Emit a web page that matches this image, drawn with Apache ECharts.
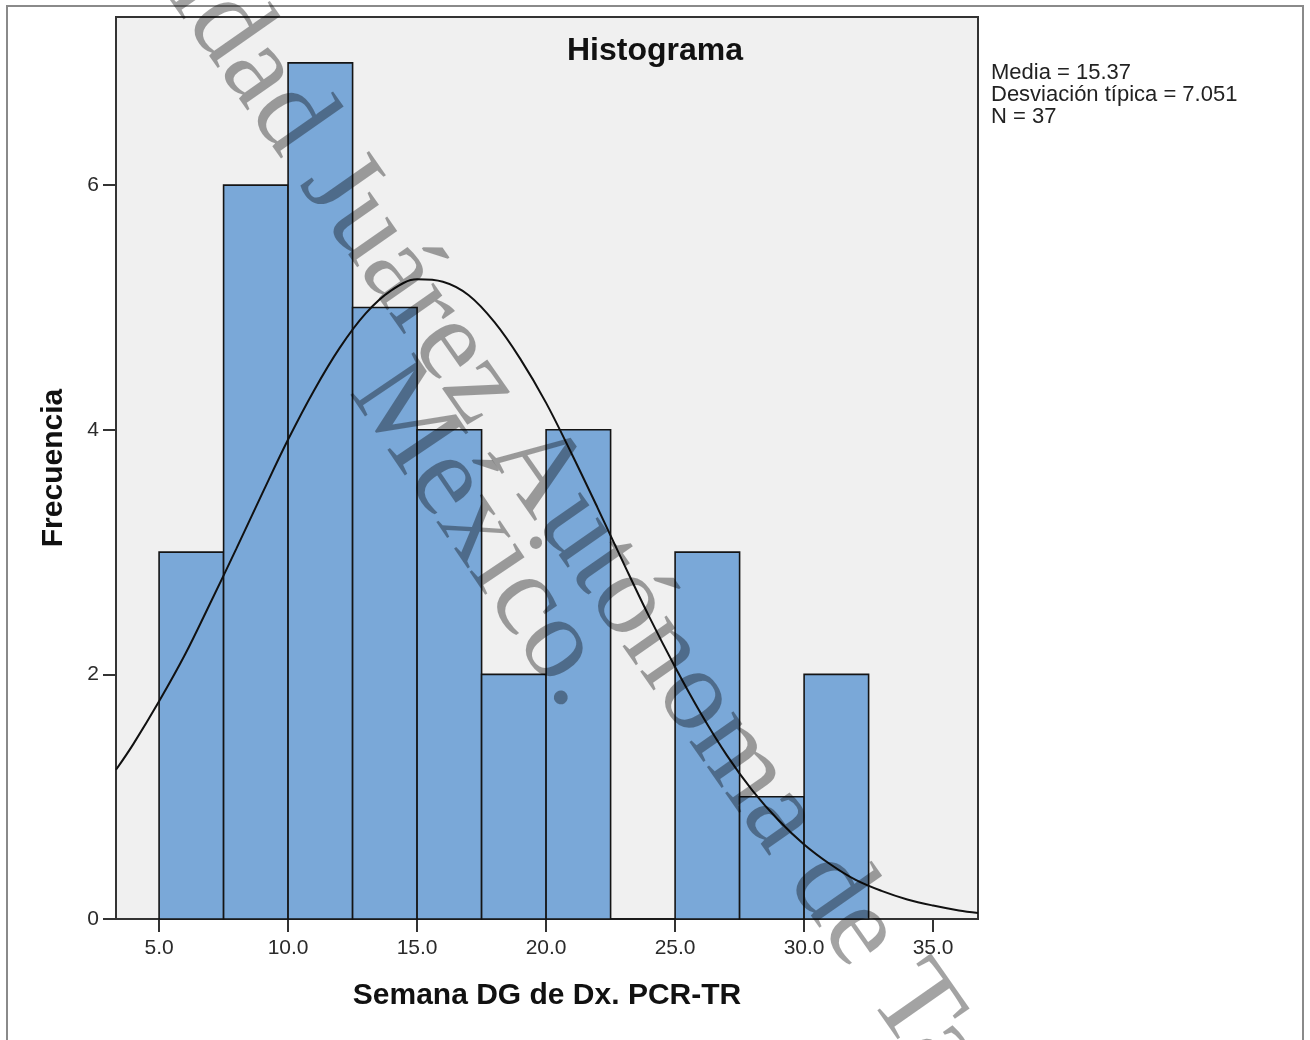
<!DOCTYPE html>
<html>
<head>
<meta charset="utf-8">
<script src="https://cdn.jsdelivr.net/npm/echarts@6/dist/echarts.min.js"></script>
<style>
    html, body { margin: 0; padding: 0; background: #fff; }
    #chart { width: 1310px; height: 1040px; }
</style>
</head>
<body>
<div id="chart"></div>
<script>
    // histogram bins (width 2.5) and counts
    var binStart = [5, 7.5, 10, 12.5, 15, 17.5, 20, 22.5, 25, 27.5, 30];
    var binWidth = 2.5;
    var counts = [3, 6, 7, 5, 4, 2, 4, 0, 3, 1, 2];

    // normal curve
    var curveX = [3.33, 4, 5, 6, 7, 8, 9, 10, 11, 12, 13, 14, 15, 16, 17, 18, 19, 20, 21, 22, 23, 24, 25, 26, 27, 28, 29, 30, 31, 32, 33, 34, 35, 36, 36.74];
    var curveY = [1.22, 1.43, 1.78, 2.16, 2.59, 3.03, 3.48, 3.92, 4.32, 4.67, 4.95, 5.14, 5.23, 5.21, 5.10, 4.88, 4.58, 4.22, 3.80, 3.36, 2.91, 2.47, 2.06, 1.68, 1.34, 1.05, 0.81, 0.61, 0.45, 0.32, 0.23, 0.16, 0.11, 0.07, 0.05];

    var xTicks = [5, 10, 15, 20, 25, 30, 35];
    var yTicks = [0, 2, 4, 6];
    var statsLines = ['Media = 15.37', 'Desviación típica = 7.051', 'N = 37'];

    var barData = binStart.map(function (s, i) {
        return [s, s + binWidth, counts[i]];
    });
    var lineData = curveX.map(function (x, i) {
        return [x, curveY[i]];
    });

    var myChart = echarts.init(document.getElementById('chart'));
    var option = {
        backgroundColor: '#ffffff',
        animation: false,
        grid: {
            left: 116,
            top: 17,
            right: 332,
            bottom: 121,
            show: true,
            backgroundColor: '#f0f0f0',
            borderColor: '#333333',
            borderWidth: 2
        },
        xAxis: {
            type: 'value',
            min: 3.33,
            max: 36.74,
            name: 'Semana DG de Dx. PCR-TR',
            nameLocation: 'middle',
            nameGap: 62,
            nameTextStyle: {
                fontFamily: 'Liberation Sans',
                fontWeight: 'bold',
                fontSize: 30,
                color: '#111'
            },
            axisLine: { show: true, lineStyle: { color: '#333', width: 2 } },
            axisTick: {
                show: true,
                length: 13,
                customValues: xTicks,
                lineStyle: { color: '#333', width: 2 }
            },
            axisLabel: {
                customValues: xTicks,
                margin: 19,
                fontFamily: 'Liberation Sans',
                fontSize: 21,
                color: '#2a2a2a',
                formatter: function (v) { return v.toFixed(1); }
            },
            splitLine: { show: false }
        },
        yAxis: {
            type: 'value',
            min: 0,
            max: 7.375,
            name: 'Frecuencia',
            nameLocation: 'middle',
            nameGap: 47,
            nameTextStyle: {
                fontFamily: 'Liberation Sans',
                fontWeight: 'bold',
                fontSize: 30,
                color: '#111'
            },
            axisLine: { show: true, lineStyle: { color: '#333', width: 2 } },
            axisTick: {
                show: true,
                length: 13,
                customValues: yTicks,
                lineStyle: { color: '#333', width: 2 }
            },
            axisLabel: {
                customValues: yTicks,
                margin: 17,
                fontFamily: 'Liberation Sans',
                fontSize: 21,
                color: '#2a2a2a'
            },
            splitLine: { show: false }
        },
        graphic: [
            {
                type: 'rect',
                shape: { x: 7, y: 6, width: 1296, height: 1050 },
                style: { fill: 'none', stroke: '#8a8a8a', lineWidth: 2 },
                z: 1
            },
            {
                type: 'text',
                x: 655,
                y: 51,
                style: {
                    text: 'Histograma',
                    font: 'bold 32px "Liberation Sans"',
                    fill: '#111',
                    textAlign: 'center',
                    textVerticalAlign: 'middle'
                },
                z: 50
            },
            {
                type: 'text',
                x: 991,
                y: 62,
                style: {
                    text: statsLines.join('\n'),
                    font: '22px "Liberation Sans"',
                    lineHeight: 22,
                    fill: '#222',
                    textAlign: 'left',
                    textVerticalAlign: 'top'
                },
                z: 50
            },
            // watermark
            {
                type: 'text',
                x: 545,
                y: 482,
                rotation: -55 * Math.PI / 180,
                style: {
                    text: 'Universidad Juárez Autónoma de Tabasco',
                    font: '117px "Liberation Serif"',
                    fill: 'rgba(0,0,0,0.36)',
                    textAlign: 'center',
                    textVerticalAlign: 'middle'
                },
                z: 100
            },
            {
                type: 'text',
                x: 482,
                y: 535,
                rotation: -56 * Math.PI / 180,
                style: {
                    text: 'México.',
                    font: '117px "Liberation Serif"',
                    fill: 'rgba(0,0,0,0.36)',
                    textAlign: 'center',
                    textVerticalAlign: 'middle'
                },
                z: 100
            }
        ],
        series: [
            {
                type: 'custom',
                name: 'Frecuencia',
                encode: { x: [0, 1], y: 2 },
                data: barData,
                z: 2,
                renderItem: function (params, api) {
                    var p0 = api.coord([api.value(0), 0]);
                    var p1 = api.coord([api.value(1), api.value(2)]);
                    return {
                        type: 'rect',
                        shape: {
                            x: p0[0],
                            y: p1[1],
                            width: p1[0] - p0[0],
                            height: p0[1] - p1[1]
                        },
                        style: {
                            fill: '#7aa8d8',
                            stroke: '#141414',
                            lineWidth: 1.6
                        }
                    };
                }
            },
            {
                type: 'line',
                name: 'Normal',
                data: lineData,
                smooth: 0.35,
                symbol: 'none',
                clip: true,
                z: 3,
                lineStyle: { color: '#111', width: 2 }
            }
        ]
    };
    myChart.setOption(option);
</script>
</body>
</html>
